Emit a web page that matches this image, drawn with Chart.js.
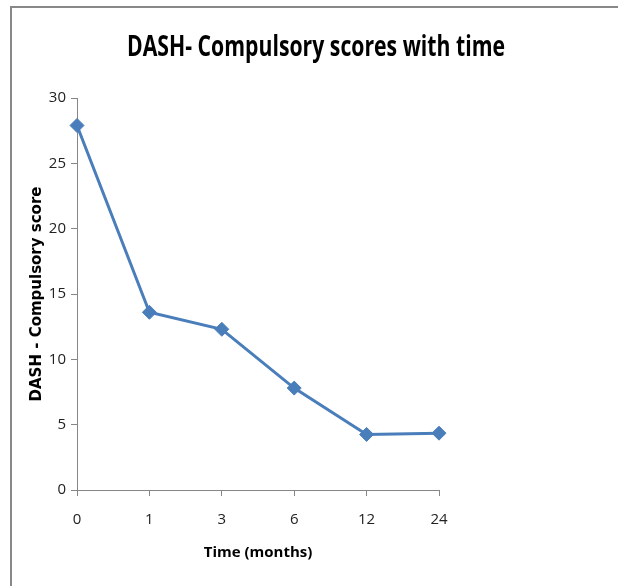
<!DOCTYPE html>
<html>
<head>
<meta charset="utf-8">
<script src="https://cdn.jsdelivr.net/npm/chart.js@4"></script>
<style>
  html, body { margin: 0; padding: 0; background: #fff; }
  #wrap { position: relative; width: 618px; height: 586px; }
  #frame { position: absolute; left: 10px; top: 6px; right: 0; bottom: 0; border-top: 2px solid #888; border-left: 2px solid #888; pointer-events: none; }
  canvas { position: absolute; left: 0; top: 0; }
</style>
</head>
<body>
<div id="wrap">
  <canvas id="c" width="618" height="586"></canvas>
  <div id="frame"></div>
</div>
<script>
const categories = ['0', '1', '3', '6', '12', '24'];
const dashScores = [27.9, 13.6, 12.3, 7.8, 4.25, 4.35];
const yTicks = [0, 5, 10, 15, 20, 25, 30];
const chartTitle = 'DASH- Compulsory scores with time';

const baseFont = '"Open Sans", sans-serif';

const titlePlugin = {
  id: 'narrowTitle',
  afterDraw(chart) {
    const ctx = chart.ctx;
    ctx.save();
    ctx.font = 'bold 29px "Open Sans", sans-serif';
    ctx.fillStyle = '#000';
    ctx.textAlign = 'center';
    ctx.textBaseline = 'middle';
    const w = ctx.measureText(chartTitle).width;
    const sx = 378 / w;
    ctx.translate(316, 48);
    ctx.scale(sx, 1);
    ctx.fillText(chartTitle, 0, 0);
    ctx.restore();
  }
};

new Chart(document.getElementById('c'), {
  type: 'line',
  data: {
    labels: categories,
    datasets: [{
      label: 'DASH- Compulsory',
      data: dashScores,
      borderColor: '#4a7ebb',
      backgroundColor: '#4a7ebb',
      borderWidth: 3,
      pointStyle: 'rectRot',
      pointRadius: 7,
      pointBorderWidth: 1,
      tension: 0
    }]
  },
  plugins: [titlePlugin],
  options: {
    responsive: false,
    animation: false,
    layout: { padding: { left: 28, right: 179, top: 98, bottom: 20 } },
    plugins: {
      legend: { display: false },
      tooltip: { enabled: false },
      title: { display: false }
    },
    scales: {
      x: {
        offset: false,
        grid: { drawOnChartArea: false, drawTicks: true, tickLength: 6, color: '#868686' },
        border: { color: '#868686', width: 1 },
        ticks: { color: '#222', font: { family: baseFont, size: 15 }, padding: 15 },
        title: { display: true, text: 'Time (months)', color: '#000', font: { family: baseFont, size: 15, weight: 'bold' }, padding: { top: 0 } }
      },
      y: {
        min: 0, max: 30,
        afterBuildTicks: (s) => { s.ticks = yTicks.map(v => ({ value: v })); },
        afterFit: (s) => { s.width = 49; },
        grid: { drawOnChartArea: false, drawTicks: true, tickLength: 6, color: '#868686' },
        border: { color: '#868686', width: 1 },
        ticks: { color: '#222', font: { family: baseFont, size: 15 }, padding: 5 },
        title: { display: true, text: 'DASH - Compulsory score', color: '#000', font: { family: '"DejaVu Sans", sans-serif', size: 15, weight: 'bold' }, padding: { top: 0, bottom: 8 } }
      }
    }
  }
});
</script>
</body>
</html>
